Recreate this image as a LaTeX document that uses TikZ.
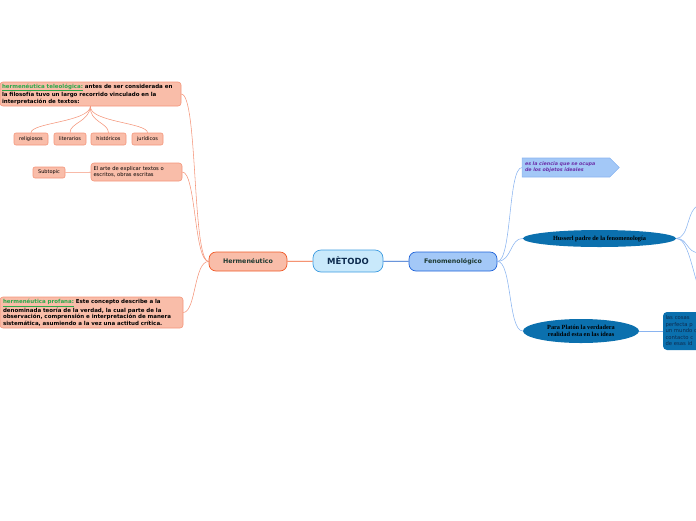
\documentclass[tikz,border=0pt]{standalone}
\usepackage{fontspec}
\setmainfont{DejaVu Sans}
\newfontfamily\ideafont{Liberation Serif}
\usetikzlibrary{positioning,calc,shapes.geometric,shapes.symbols}
\definecolor{mapsalmon}{HTML}{F9BDA9}
\definecolor{mapedge}{HTML}{F4957A}
\definecolor{mapred}{HTML}{F05A28}
\definecolor{mapsky}{HTML}{C9E9FB}
\definecolor{mapskyedge}{HTML}{3C9BE0}
\definecolor{mapnavy}{HTML}{0D2B4E}
\definecolor{mapblue}{HTML}{A3C8F7}
\definecolor{mapblueedge}{HTML}{1F63D9}
\definecolor{mapdeep}{HTML}{1A5CC8}
\definecolor{maplink}{HTML}{8AB4F0}
\definecolor{mapocean}{HTML}{0B70AE}
\definecolor{mapgreen}{HTML}{2BA84A}
\definecolor{mapplum}{HTML}{6B2FA8}
\definecolor{maptext}{HTML}{1E3A32}

\tikzset{
  rootbox/.style={draw=mapskyedge, fill=mapsky, rounded corners=8pt, line width=0.7pt,
    minimum width=70pt, minimum height=22pt, text=mapnavy, font=\fontsize{8.5}{10}\selectfont\bfseries},
  mainbox/.style={rounded corners=7pt, line width=0.7pt, minimum height=19pt,
    text=maptext, font=\fontsize{6.3}{8}\selectfont\bfseries},
  notebox/.style={draw=mapedge, fill=mapsalmon, rounded corners=3pt, line width=0.6pt,
    align=left, inner sep=0pt, font=\fontsize{5.2}{6.5}\selectfont},
  tagbox/.style={draw=mapedge, fill=mapsalmon, rounded corners=2pt, line width=0.6pt,
    inner sep=0pt, minimum height=12pt, font=\fontsize{5}{6}\selectfont},
  ideabox/.style={ellipse, fill=mapocean, inner sep=0pt, align=center,
    font=\fontsize{6.3}{7}\selectfont\ideafont\bfseries},
  leftlink/.style={draw=mapedge, line width=0.55pt},
  rightlink/.style={draw=maplink, line width=0.55pt}
}

\begin{document}
\begin{tikzpicture}[x=1pt, y=-1pt]
  \path[use as bounding box] (0,0) rectangle (696,520);
  \clip (0,0) rectangle (696,520);

  % centre
  \node[rootbox] (metodo) at (348,261) {MÈTODO};
  \node[mainbox, draw=mapred, fill=mapsalmon, minimum width=78pt] (herm) at (248,261.5) {Hermenéutico};
  \node[mainbox, draw=mapblueedge, fill=mapblue, minimum width=88pt] (fenom) at (453,261.5) {Fenomenológico};
  \draw[mapred, line width=0.8pt] (metodo) -- (herm);
  \draw[mapdeep, line width=0.8pt] (metodo) -- (fenom);

  % left side
  \node[notebox, font=\fontsize{5.5}{6.5}\selectfont\bfseries, minimum width=181pt, minimum height=24pt, text width=177pt] (teleo) at (90.5,94)
    {\textcolor{mapgreen}{\underline{hermenéutica teleológica:}} antes de ser considerada en\\la filosofía tuvo un largo recorrido vinculado en la\\interpretación de textos:};
  \node[tagbox, minimum width=34pt] (relig) at (31,139) {religiosos};
  \node[tagbox, minimum width=32pt] (liter) at (70,139) {literarios};
  \node[tagbox, minimum width=35pt] (histo) at (108.5,139) {históricos};
  \node[tagbox, minimum width=31pt] (jurid) at (147.5,139) {jurídicos};
  \foreach \k in {relig, liter, histo, jurid}
    \draw[leftlink] (teleo.south) .. controls (89,122) and ($(\k.north)+(0,-10)$) .. (\k.north);

  \node[notebox, minimum width=91pt, minimum height=18pt, text width=86pt] (arte) at (136.5,172)
    {El arte de explicar textos o\\escritos, obras escritas};
  \node[tagbox, minimum width=32pt, minimum height=11pt] (subtopic) at (49,172.5) {Subtopic};
  \draw[leftlink] (subtopic) -- (arte);

  \node[notebox, font=\fontsize{5.5}{6.5}\selectfont\bfseries, minimum width=183pt, minimum height=31pt, text width=177pt] (profana) at (91.5,312.5)
    {\textcolor{mapgreen}{\underline{hermenéutica profana:}} Este concepto describe a la\\denominada teoría de la verdad, la cual parte de la\\observación, comprensión e interpretación de manera\\sistemática, asumiendo a la vez una actitud crítica.};

  \draw[leftlink] (herm.west) .. controls (192,261) and (198,94) .. (teleo.east);
  \draw[leftlink] (herm.west) .. controls (194,261) and (196,172) .. (arte.east);
  \draw[leftlink] (herm.west) .. controls (194,261) and (196,312) .. (profana.east);

  % right side
  \node[signal, signal to=east, draw=maplink, fill=mapblue, line width=0.6pt, inner sep=0pt,
    minimum width=97pt, minimum height=19pt, text width=82pt, align=left, text=mapplum,
    font=\fontsize{4.8}{6.3}\selectfont\bfseries\itshape] (ciencia) at (566,167.5)
    {es la ciencia que se ocupa\\de los objetos ideales};
  \node[ideabox, minimum width=153pt, minimum height=17pt] (husserl) at (599.5,238.5)
    {Husserl padre de la fenomenología};
  \node[ideabox, minimum width=116pt, minimum height=24pt] (platon) at (581,331)
    {Para Platón la verdadera\\realidad esta en las ideas};
  \node[fill=mapocean, rounded corners=4pt, minimum width=100pt, minimum height=38pt,
    text width=95pt, align=left, inner sep=0pt, text=mapnavy,
    font=\fontsize{5.3}{6.5}\selectfont] (cosas) at (713,331)
    {las cosas\\perfecta p\\un mundo c\\contacto c\\de esas id};

  \draw[rightlink] (fenom.east) .. controls (512,261) and (508,168) .. (ciencia.west);
  \draw[rightlink] (fenom.east) .. controls (512,261) and (510,238) .. (husserl.west);
  \draw[rightlink] (fenom.east) .. controls (512,261) and (508,331) .. (platon.west);
  \draw[rightlink] (platon) -- (cosas);

  \coordinate (hup) at (700,205);
  \coordinate (hmid) at (700,253);
  \coordinate (hlow) at (700,292);
  \draw[rightlink] (husserl.east) .. controls (690,238) and (686,208) .. (hup);
  \draw[rightlink] (husserl.east) .. controls (688,238) and (686,253) .. (hmid);
  \draw[rightlink] (husserl.east) .. controls (688,238) and (692,270) .. (hlow);
\end{tikzpicture}
\end{document}
